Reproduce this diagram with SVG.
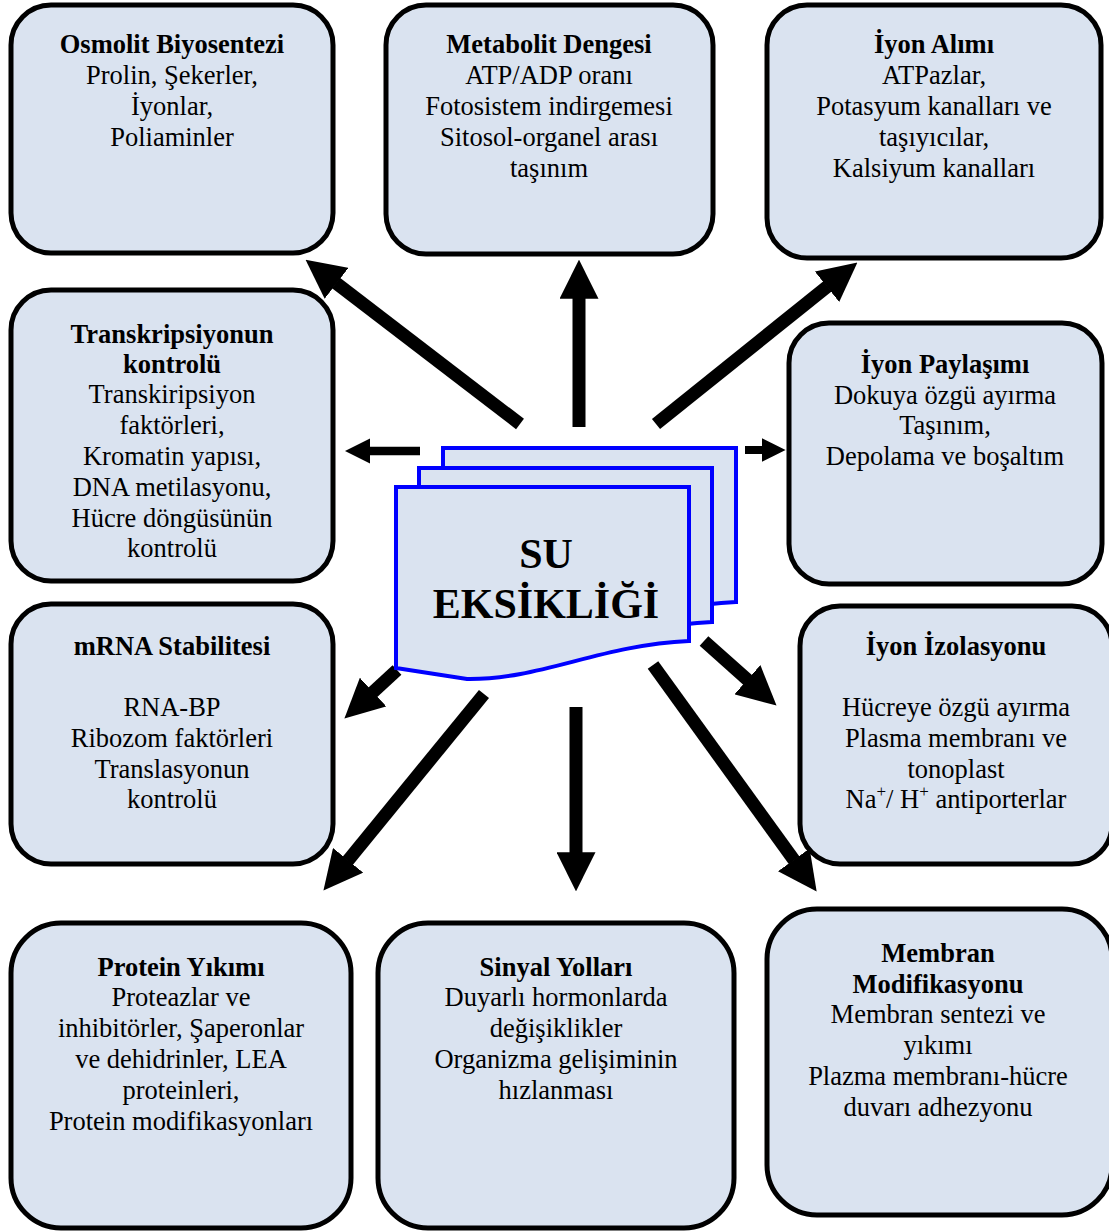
<svg xmlns="http://www.w3.org/2000/svg" width="1109" height="1232" viewBox="0 0 1109 1232">
<style>
.box{fill:#DAE3F0;stroke:#000;stroke-width:5}
.doc{fill:#DAE3F0;stroke:#0000FF;stroke-width:4;stroke-linejoin:miter}
text{font-family:"Liberation Serif","Times New Roman",serif;font-size:26.5px;fill:#000;text-anchor:middle}
.t{font-weight:bold}
.big{font-weight:bold;font-size:42px}
.arr{stroke:#000;fill:none;marker-end:url(#ah)}
</style>
<defs>
<marker id="ah" viewBox="0 0 3 3" markerWidth="3" markerHeight="3" refX="0.05" refY="1.5" orient="auto" markerUnits="strokeWidth">
<path d="M0,0 L3,1.5 L0,3 Z" fill="#000"/>
</marker>
</defs>
<rect width="1109" height="1232" fill="#fff"/>

<g id="connectors">
<line class="arr" x1="520" y1="424" x2="336" y2="283" stroke-width="13"/>
<line class="arr" x1="579" y1="427" x2="579" y2="298" stroke-width="13"/>
<line class="arr" x1="656" y1="424" x2="827.5" y2="286.4" stroke-width="13"/>
<line class="arr" x1="420" y1="451" x2="370" y2="451" stroke-width="8.5"/>
<line class="arr" x1="745" y1="450" x2="762" y2="450" stroke-width="8"/>
<line class="arr" x1="397" y1="670" x2="372.6" y2="692.5" stroke-width="13"/>
<line class="arr" x1="484" y1="694" x2="347.7" y2="860.8" stroke-width="13"/>
<line class="arr" x1="576" y1="707" x2="576" y2="853" stroke-width="13"/>
<line class="arr" x1="704" y1="641" x2="747.9" y2="680.1" stroke-width="13"/>
<line class="arr" x1="653" y1="665" x2="794.2" y2="860.4" stroke-width="13"/>
</g>

<g id="center">
<path class="doc" transform="translate(47,-39)" d="M396,487 H689 V641 C600,645 540,680 467,679 L396,668 Z"/>
<path class="doc" transform="translate(23,-19)" d="M396,487 H689 V641 C600,645 540,680 467,679 L396,668 Z"/>
<path class="doc" d="M396,487 H689 V641 C600,645 540,680 467,679 L396,668 Z"/>
<text class="big" x="546" y="568">SU</text>
<text class="big" x="546" y="618">EKSİKLİĞİ</text>
</g>

<g id="osmolit">
<rect class="box" x="11" y="5" width="322" height="248" rx="40"/>
<text class="t" x="172" y="53">Osmolit Biyosentezi</text>
<text x="172" y="84">Prolin, Şekerler,</text>
<text x="172" y="115">İyonlar,</text>
<text x="172" y="146">Poliaminler</text>
</g>

<g id="metabolit">
<rect class="box" x="386" y="5" width="327" height="249" rx="40"/>
<text class="t" x="549" y="53">Metabolit Dengesi</text>
<text x="549" y="84">ATP/ADP oranı</text>
<text x="549" y="115">Fotosistem indirgemesi</text>
<text x="549" y="146">Sitosol-organel arası</text>
<text x="549" y="177">taşınım</text>
</g>

<g id="iyon-alimi">
<rect class="box" x="767" y="5" width="334" height="253" rx="40"/>
<text class="t" x="934" y="53">İyon Alımı</text>
<text x="934" y="84">ATPazlar,</text>
<text x="934" y="115">Potasyum kanalları ve</text>
<text x="934" y="146">taşıyıcılar,</text>
<text x="934" y="177">Kalsiyum kanalları</text>
</g>

<g id="transkripsiyon">
<rect class="box" x="11" y="290" width="322" height="291" rx="40"/>
<text class="t" x="172" y="343">Transkripsiyonun</text>
<text class="t" x="172" y="373">kontrolü</text>
<text x="172" y="403">Transkiripsiyon</text>
<text x="172" y="434">faktörleri,</text>
<text x="172" y="465">Kromatin yapısı,</text>
<text x="172" y="496">DNA metilasyonu,</text>
<text x="172" y="527">Hücre döngüsünün</text>
<text x="172" y="557">kontrolü</text>
</g>

<g id="iyon-paylasimi">
<rect class="box" x="789" y="323" width="313" height="261" rx="40"/>
<text class="t" x="945" y="373">İyon Paylaşımı</text>
<text x="945" y="404">Dokuya özgü ayırma</text>
<text x="945" y="434">Taşınım,</text>
<text x="945" y="465">Depolama ve boşaltım</text>
</g>

<g id="mrna">
<rect class="box" x="11" y="604" width="322" height="260" rx="40"/>
<text class="t" x="172" y="655">mRNA Stabilitesi</text>
<text x="172" y="716">RNA-BP</text>
<text x="172" y="747">Ribozom faktörleri</text>
<text x="172" y="778">Translasyonun</text>
<text x="172" y="808">kontrolü</text>
</g>

<g id="iyon-izolasyonu">
<rect class="box" x="800" y="606" width="312" height="258" rx="40"/>
<text class="t" x="956" y="655">İyon İzolasyonu</text>
<text x="956" y="716">Hücreye özgü ayırma</text>
<text x="956" y="747">Plasma membranı ve</text>
<text x="956" y="778">tonoplast</text>
<text x="956" y="808">Na<tspan font-size="17" dy="-11">+</tspan><tspan dy="11">/ H</tspan><tspan font-size="17" dy="-11">+</tspan><tspan dy="11"> antiporterlar</tspan></text>
</g>

<g id="protein">
<rect class="box" x="11" y="923" width="340" height="305" rx="50"/>
<text class="t" x="181" y="976">Protein Yıkımı</text>
<text x="181" y="1006">Proteazlar ve</text>
<text x="181" y="1037">inhibitörler, Şaperonlar</text>
<text x="181" y="1068">ve dehidrinler, LEA</text>
<text x="181" y="1099">proteinleri,</text>
<text x="181" y="1130">Protein modifikasyonları</text>
</g>

<g id="sinyal">
<rect class="box" x="378" y="923" width="356" height="305" rx="50"/>
<text class="t" x="556" y="976">Sinyal Yolları</text>
<text x="556" y="1006">Duyarlı hormonlarda</text>
<text x="556" y="1037">değişiklikler</text>
<text x="556" y="1068">Organizma gelişiminin</text>
<text x="556" y="1099">hızlanması</text>
</g>

<g id="membran">
<rect class="box" x="767" y="909" width="345" height="306" rx="50"/>
<text class="t" x="938" y="962">Membran</text>
<text class="t" x="938" y="993">Modifikasyonu</text>
<text x="938" y="1023">Membran sentezi ve</text>
<text x="938" y="1054">yıkımı</text>
<text x="938" y="1085">Plazma membranı-hücre</text>
<text x="938" y="1116">duvarı adhezyonu</text>
</g>
</svg>
